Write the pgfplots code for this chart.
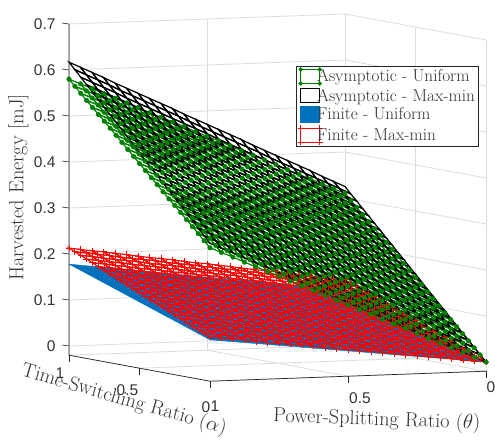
\documentclass[border=0pt]{standalone}
\usepackage{pgfplots}
\usepackage{pgfplotstable}
\usepackage{fontspec}
\pgfplotsset{compat=1.18}
\newfontfamily\helv{Liberation Sans}
\definecolor{tl}{gray}{0.2}
\definecolor{mblue}{rgb}{0,0.447,0.741}
\definecolor{mgreen}{rgb}{0,0.5,0}
\pgfplotstableread{
z
0
.012
.023
.035
.047
.058
.070
.082
.093
.105
.117
.128
.140
.152
.163
.175
.187
.198
.210
.222
.233
.245
.257
.268
.280
.014
.025
.037
.049
.060
.072
.084
.095
.107
.119
.130
.142
.154
.166
.177
.189
.201
.212
.224
.236
.247
.259
.271
.282
.294
.027
.039
.051
.062
.074
.086
.097
.109
.121
.132
.144
.156
.168
.179
.191
.203
.214
.226
.238
.250
.261
.273
.285
.296
.308
.041
.052
.064
.076
.088
.099
.111
.123
.134
.146
.158
.170
.181
.193
.205
.217
.228
.240
.252
.264
.275
.287
.299
.310
.322
.054
.066
.078
.089
.101
.113
.125
.136
.148
.160
.172
.183
.195
.207
.219
.230
.242
.254
.266
.277
.289
.301
.313
.324
.336
.068
.079
.091
.103
.115
.127
.138
.150
.162
.174
.185
.197
.209
.221
.232
.244
.256
.268
.280
.291
.303
.315
.327
.338
.350
.081
.093
.105
.117
.128
.140
.152
.164
.176
.187
.199
.211
.223
.234
.246
.258
.270
.282
.293
.305
.317
.329
.341
.352
.364
.095
.107
.118
.130
.142
.154
.166
.177
.189
.201
.213
.225
.237
.248
.260
.272
.284
.296
.307
.319
.331
.343
.354
.366
.378
.108
.120
.132
.144
.156
.167
.179
.191
.203
.215
.227
.238
.250
.262
.274
.286
.298
.310
.321
.333
.345
.357
.369
.381
.392
.122
.134
.146
.157
.169
.181
.193
.205
.217
.229
.240
.252
.264
.276
.288
.300
.312
.323
.335
.347
.359
.371
.383
.395
.406
.135
.147
.159
.171
.183
.195
.207
.219
.230
.242
.254
.266
.278
.290
.302
.314
.325
.337
.349
.361
.373
.385
.397
.409
.420
.149
.161
.173
.185
.197
.208
.220
.232
.244
.256
.268
.280
.292
.304
.315
.327
.339
.351
.363
.375
.387
.399
.411
.423
.434
.163
.174
.186
.198
.210
.222
.234
.246
.258
.270
.282
.294
.306
.317
.329
.341
.353
.365
.377
.389
.401
.413
.425
.437
.449
.176
.188
.200
.212
.224
.236
.248
.260
.272
.283
.295
.307
.319
.331
.343
.355
.367
.379
.391
.403
.415
.427
.439
.451
.463
.190
.202
.213
.225
.237
.249
.261
.273
.285
.297
.309
.321
.333
.345
.357
.369
.381
.393
.405
.417
.429
.441
.453
.465
.477
.203
.215
.227
.239
.251
.263
.275
.287
.299
.311
.323
.335
.347
.359
.371
.383
.395
.407
.419
.431
.443
.455
.467
.479
.491
.217
.229
.241
.253
.265
.277
.289
.301
.313
.325
.337
.349
.361
.373
.385
.397
.409
.421
.433
.445
.457
.469
.481
.493
.505
.230
.242
.254
.266
.278
.290
.302
.314
.326
.338
.350
.362
.374
.386
.398
.410
.423
.435
.447
.459
.471
.483
.495
.507
.519
.244
.256
.268
.280
.292
.304
.316
.328
.340
.352
.364
.376
.388
.400
.412
.424
.436
.449
.461
.473
.485
.497
.509
.521
.533
.257
.269
.281
.293
.306
.318
.330
.342
.354
.366
.378
.390
.402
.414
.426
.438
.450
.462
.474
.487
.499
.511
.523
.535
.547
.271
.283
.295
.307
.319
.331
.343
.355
.368
.380
.392
.404
.416
.428
.440
.452
.464
.476
.488
.500
.512
.525
.537
.549
.561
.284
.296
.309
.321
.333
.345
.357
.369
.381
.393
.405
.418
.430
.442
.454
.466
.478
.490
.502
.514
.527
.539
.551
.563
.575
.298
.310
.322
.334
.346
.359
.371
.383
.395
.407
.419
.431
.443
.456
.468
.480
.492
.504
.516
.528
.540
.553
.565
.577
.589
.311
.324
.336
.348
.360
.372
.384
.396
.409
.421
.433
.445
.457
.469
.481
.494
.506
.518
.530
.542
.554
.567
.579
.591
.603
.325
.337
.349
.362
.374
.386
.398
.410
.422
.435
.447
.459
.471
.483
.495
.508
.520
.532
.544
.556
.568
.581
.593
.605
.617
}\tblack
\pgfplotstableread{
z
0
.011
.023
.034
.045
.056
.068
.079
.090
.101
.113
.124
.135
.146
.158
.169
.180
.191
.203
.214
.225
.236
.248
.259
.270
.013
.024
.035
.047
.058
.069
.080
.092
.103
.114
.125
.137
.148
.159
.170
.182
.193
.204
.215
.227
.238
.249
.260
.272
.283
.026
.037
.048
.060
.071
.082
.093
.105
.116
.127
.138
.150
.161
.172
.183
.195
.206
.217
.228
.240
.251
.262
.273
.285
.296
.039
.050
.061
.073
.084
.095
.106
.118
.129
.140
.151
.163
.174
.185
.196
.208
.219
.230
.241
.253
.264
.275
.286
.298
.309
.052
.063
.074
.085
.097
.108
.119
.130
.142
.153
.164
.175
.187
.198
.209
.220
.232
.243
.254
.265
.277
.288
.299
.310
.322
.065
.076
.087
.098
.110
.121
.132
.143
.155
.166
.177
.188
.200
.211
.222
.233
.245
.256
.267
.278
.290
.301
.312
.323
.335
.078
.089
.100
.111
.123
.134
.145
.156
.168
.179
.190
.201
.213
.224
.235
.246
.258
.269
.280
.291
.303
.314
.325
.336
.348
.090
.102
.113
.124
.135
.147
.158
.169
.180
.192
.203
.214
.225
.237
.248
.259
.270
.282
.293
.304
.315
.327
.338
.349
.360
.103
.115
.126
.137
.148
.160
.171
.182
.193
.205
.216
.227
.238
.250
.261
.272
.283
.295
.306
.317
.328
.340
.351
.362
.373
.116
.128
.139
.150
.161
.173
.184
.195
.206
.218
.229
.240
.251
.263
.274
.285
.296
.308
.319
.330
.341
.353
.364
.375
.386
.129
.140
.152
.163
.174
.185
.197
.208
.219
.230
.242
.253
.264
.275
.287
.298
.309
.320
.332
.343
.354
.365
.377
.388
.399
.142
.153
.165
.176
.187
.198
.210
.221
.232
.243
.255
.266
.277
.288
.300
.311
.322
.333
.345
.356
.367
.378
.390
.401
.412
.155
.166
.178
.189
.200
.211
.223
.234
.245
.256
.268
.279
.290
.301
.313
.324
.335
.346
.358
.369
.380
.391
.403
.414
.425
.168
.179
.190
.202
.213
.224
.235
.247
.258
.269
.280
.292
.303
.314
.325
.337
.348
.359
.370
.382
.393
.404
.415
.427
.438
.181
.192
.203
.215
.226
.237
.248
.260
.271
.282
.293
.305
.316
.327
.338
.350
.361
.372
.383
.395
.406
.417
.428
.440
.451
.194
.205
.216
.228
.239
.250
.261
.273
.284
.295
.306
.318
.329
.340
.351
.363
.374
.385
.396
.408
.419
.430
.441
.453
.464
.207
.218
.229
.240
.252
.263
.274
.285
.297
.308
.319
.330
.342
.353
.364
.375
.387
.398
.409
.420
.432
.443
.454
.465
.477
.220
.231
.242
.253
.265
.276
.287
.298
.310
.321
.332
.343
.355
.366
.377
.388
.400
.411
.422
.433
.445
.456
.467
.478
.490
.233
.244
.255
.266
.278
.289
.300
.311
.323
.334
.345
.356
.368
.379
.390
.401
.413
.424
.435
.446
.458
.469
.480
.491
.503
.245
.257
.268
.279
.290
.302
.313
.324
.335
.347
.358
.369
.380
.392
.403
.414
.425
.437
.448
.459
.470
.482
.493
.504
.515
.258
.270
.281
.292
.303
.315
.326
.337
.348
.360
.371
.382
.393
.405
.416
.427
.438
.450
.461
.472
.483
.495
.506
.517
.528
.271
.283
.294
.305
.316
.328
.339
.350
.361
.373
.384
.395
.406
.418
.429
.440
.451
.463
.474
.485
.496
.508
.519
.530
.541
.284
.295
.307
.318
.329
.340
.352
.363
.374
.385
.397
.408
.419
.430
.442
.453
.464
.475
.487
.498
.509
.520
.532
.543
.554
.297
.308
.320
.331
.342
.353
.365
.376
.387
.398
.410
.421
.432
.443
.455
.466
.477
.488
.500
.511
.522
.533
.545
.556
.567
.310
.321
.333
.344
.355
.366
.378
.389
.400
.411
.423
.434
.445
.456
.468
.479
.490
.501
.513
.524
.535
.546
.558
.569
.580
}\tgreen
\pgfplotstableread{
z
0
.003
.006
.010
.013
.016
.019
.022
.025
.029
.032
.035
.038
.041
.044
.048
.051
.054
.057
.060
.063
.067
.070
.073
.076
.005
.008
.011
.015
.018
.021
.024
.027
.031
.034
.037
.040
.043
.047
.050
.053
.056
.059
.063
.066
.069
.072
.075
.079
.082
.010
.013
.017
.020
.023
.026
.029
.033
.036
.039
.042
.046
.049
.052
.055
.058
.062
.065
.068
.071
.075
.078
.081
.084
.087
.015
.018
.022
.025
.028
.031
.035
.038
.041
.044
.048
.051
.054
.057
.061
.064
.067
.070
.074
.077
.080
.083
.087
.090
.093
.020
.024
.027
.030
.033
.037
.040
.043
.047
.050
.053
.056
.060
.063
.066
.069
.073
.076
.079
.082
.086
.089
.092
.096
.099
.025
.029
.032
.035
.039
.042
.045
.049
.052
.055
.058
.062
.065
.068
.072
.075
.078
.082
.085
.088
.091
.095
.098
.101
.105
.031
.034
.037
.040
.044
.047
.050
.054
.057
.060
.064
.067
.070
.074
.077
.080
.084
.087
.090
.094
.097
.100
.104
.107
.110
.036
.039
.042
.046
.049
.052
.056
.059
.062
.066
.069
.072
.076
.079
.082
.086
.089
.093
.096
.099
.103
.106
.109
.113
.116
.041
.044
.047
.051
.054
.058
.061
.064
.068
.071
.074
.078
.081
.085
.088
.091
.095
.098
.101
.105
.108
.112
.115
.118
.122
.046
.049
.053
.056
.059
.063
.066
.070
.073
.076
.080
.083
.087
.090
.093
.097
.100
.104
.107
.110
.114
.117
.121
.124
.127
.051
.054
.058
.061
.065
.068
.071
.075
.078
.082
.085
.089
.092
.095
.099
.102
.106
.109
.113
.116
.119
.123
.126
.130
.133
.056
.059
.063
.066
.070
.073
.077
.080
.084
.087
.090
.094
.097
.101
.104
.108
.111
.115
.118
.122
.125
.128
.132
.135
.139
.061
.064
.068
.071
.075
.078
.082
.085
.089
.092
.096
.099
.103
.106
.110
.113
.117
.120
.124
.127
.131
.134
.138
.141
.145
.066
.070
.073
.077
.080
.084
.087
.091
.094
.098
.101
.105
.108
.112
.115
.119
.122
.126
.129
.133
.136
.140
.143
.147
.150
.071
.075
.078
.082
.085
.089
.092
.096
.099
.103
.106
.110
.114
.117
.121
.124
.128
.131
.135
.138
.142
.145
.149
.152
.156
.076
.080
.083
.087
.090
.094
.098
.101
.105
.108
.112
.115
.119
.123
.126
.130
.133
.137
.140
.144
.147
.151
.155
.158
.162
.081
.085
.088
.092
.096
.099
.103
.107
.110
.114
.117
.121
.124
.128
.132
.135
.139
.143
.146
.150
.153
.157
.160
.164
.167
.086
.090
.094
.097
.101
.104
.108
.112
.115
.119
.123
.126
.130
.133
.137
.141
.144
.148
.151
.155
.159
.162
.166
.169
.173
.092
.095
.099
.102
.106
.110
.113
.117
.121
.124
.128
.131
.135
.139
.142
.146
.150
.153
.157
.161
.164
.168
.172
.175
.179
.097
.100
.104
.108
.111
.115
.119
.122
.126
.130
.133
.137
.141
.144
.148
.152
.155
.159
.163
.166
.170
.174
.177
.181
.184
.102
.105
.109
.113
.116
.120
.124
.127
.131
.135
.139
.142
.146
.150
.153
.157
.161
.164
.168
.172
.175
.179
.183
.187
.190
.107
.110
.114
.118
.122
.125
.129
.133
.136
.140
.144
.148
.151
.155
.159
.162
.166
.170
.174
.177
.181
.185
.188
.192
.196
.112
.116
.119
.123
.127
.131
.134
.138
.142
.146
.149
.153
.157
.160
.164
.168
.172
.175
.179
.183
.187
.190
.194
.198
.202
.117
.121
.124
.128
.132
.136
.140
.143
.147
.151
.155
.158
.162
.166
.170
.173
.177
.181
.185
.188
.192
.196
.200
.204
.207
.122
.126
.130
.133
.137
.141
.145
.149
.152
.156
.160
.164
.168
.171
.175
.179
.183
.186
.190
.194
.198
.202
.205
.209
.213
}\tred
\pgfplotstableread{
z
0
.035
.07
.05
.087
.124
.10
.139
.178
}\tblue
\pgfplotsset{/pgfplots/table/grid3/.style={/pgfplots/table/x index=0,/pgfplots/table/y index=0,/pgfplots/table/y expr={mod(\coordindex,3)/2},/pgfplots/table/x expr={floor((\coordindex+0.5)/3)/2},/pgfplots/table/z=z},
/pgfplots/table/grid25/.style={/pgfplots/table/x index=0,/pgfplots/table/y index=0,/pgfplots/table/y expr={mod(\coordindex,25)/24},/pgfplots/table/x expr={floor((\coordindex+0.5)/25)/24},/pgfplots/table/z=z}}
\begin{document}
\begin{tikzpicture}[x=1pt,y=1pt]
\path[use as bounding box] (0,0) rectangle (495,441);
\begin{axis}[
 at={(486pt,79pt)}, anchor=origin,
 x={(-141pt,26pt)}, y={(-276pt,-10pt)}, z={(0pt,460pt)},
 xmin=0,xmax=1,ymin=0,ymax=1,zmin=-0.02,zmax=0.7,
 xtick={0,0.5,1},ytick={0,0.5,1},ztick={0,0.1,0.2,0.3,0.4,0.5,0.6,0.7},
 yticklabels={\raisebox{9pt}{0},\hspace*{14pt}\raisebox{3pt}{0.5},1},xticklabels={\hspace*{10pt}\raisebox{-4pt}{0},0.5\hspace*{6pt},\raisebox{4pt}{1}},
 zticklabels={0,0.1,0.2,0.3,0.4,0.5,0.6,0.7},
 grid=major, major grid style={gray!28,line width=0.8pt},
 clip=false,
 major tick length=0pt, tick style={draw=none},
 axis line style={draw=none},
 tick label style={font=\helv\fontsize{15.5}{16}\selectfont,text=tl},
 yticklabel style={anchor=base,xshift=5pt,yshift=-30.5pt},
 xticklabel style={anchor=base,xshift=-9pt,yshift=-27.5pt},
 zticklabel style={anchor=east,xshift=-10pt},
 ylabel={Power-Splitting Ratio ($\theta$)},
 xlabel={Time-Switching Ratio ($\alpha$)},
 zlabel={Harvested Energy [mJ]},
 ylabel style={at={(axis cs:-1.64,1.2335,-0.007)},anchor=center,rotate=-2,font=\fontsize{20.3}{21}\selectfont,text=tl},
 xlabel style={at={(axis cs:-0.8,1.72,0)},anchor=center,rotate=-16,font=\fontsize{20.3}{21}\selectfont,text=tl},
 zlabel style={at={(axis cs:1.36,1,0.324)},anchor=center,rotate=0,font=\fontsize{20.3}{21}\selectfont,text=tl},
 legend style={at={(axis cs:0.369,0.5,0.6335)},anchor=north west,draw=black!85,line width=0.7pt,fill=white,
   nodes={font=\fontsize{17.2}{18}\selectfont,text=tl},row sep=1.3pt,inner sep=1pt},
 legend cell align=left,
 colormap={kk}{color(0cm)=(black);color(1cm)=(black)},
]
\addplot3[surf,shader=flat,colormap={bb}{color(0cm)=(mblue);color(1cm)=(mblue)},mesh/ordering=y varies,mesh/cols=3,forget plot]
 table[grid3]{\tblue};
\addplot3[mesh,line width=1.1pt,colormap={rr}{color(0cm)=(red);color(1cm)=(red)},mesh/ordering=y varies,mesh/cols=25,forget plot]
 table[grid25]{\tred};
\addplot3[only marks,mark=+,mark size=3.2pt,mark options={line width=0.9pt},color=red,forget plot]
 table[grid25]{\tred};
\addplot3[mesh,line width=1.2pt,colormap={gg}{color(0cm)=(mgreen);color(1cm)=(mgreen)},mesh/ordering=y varies,mesh/cols=25,forget plot]
 table[grid25]{\tgreen};
\addplot3[only marks,mark=*,mark size=2.3pt,color=mgreen,forget plot]
 table[grid25]{\tgreen};
\addplot3[mesh,line width=1.2pt,mesh/ordering=y varies,mesh/cols=25,forget plot]
 table[grid25]{\tblack};
\draw[black!85,line width=0.7pt] (axis cs:0,0,-0.02)--(axis cs:0,1,-0.02)--(axis cs:1,1,-0.02)--(axis cs:1,1,0.7);
\draw[black!85,line width=0.6pt] (axis cs:0,0,-0.02)--++(0pt,-7pt) (axis cs:0,0.5,-0.02)--++(0pt,-7pt) (axis cs:0.5,1,-0.02)--++(0pt,-7pt)
 (axis cs:0,1,-0.02)--++(0pt,-7pt) (axis cs:1,1,-0.02)--++(0pt,-7pt);
\pgfplotsinvokeforeach{0,0.1,0.2,0.3,0.4,0.5,0.6,0.7}{\draw[black!85,line width=0.6pt] (axis cs:1,1,#1)--++(-7pt,1pt);}
\addlegendimage{legend image code/.code={\draw[mgreen,line width=1pt,fill=white] (0pt,-7pt) rectangle (19pt,7pt);
  \foreach \a/\b in {0/-7,19/-7,0/7,19/7}{\fill[mgreen] (\a pt,\b pt) circle (1.8pt);}}}
\addlegendentry{\hspace*{-8pt}Asymptotic - Uniform}
\addlegendimage{legend image code/.code={\draw[black,line width=1pt,fill=white] (0pt,-7pt) rectangle (19pt,7pt);}}
\addlegendentry{\hspace*{-8pt}Asymptotic - Max-min}
\addlegendimage{legend image code/.code={\fill[mblue] (0pt,-8pt) rectangle (19pt,8pt);}}
\addlegendentry{\hspace*{-8pt}Finite - Uniform}
\addlegendimage{legend image code/.code={\draw[red,line width=1pt,fill=white] (0pt,-7pt) rectangle (19pt,7pt);
  \foreach \a/\b in {0/-7,19/-7,0/7,19/7}{\draw[red,line width=0.8pt] (\a pt-3pt,\b pt)--(\a pt+3pt,\b pt) (\a pt,\b pt-3pt)--(\a pt,\b pt+3pt);}}}
\addlegendentry{\hspace*{-8pt}Finite - Max-min}
\end{axis}
\end{tikzpicture}
\end{document}
